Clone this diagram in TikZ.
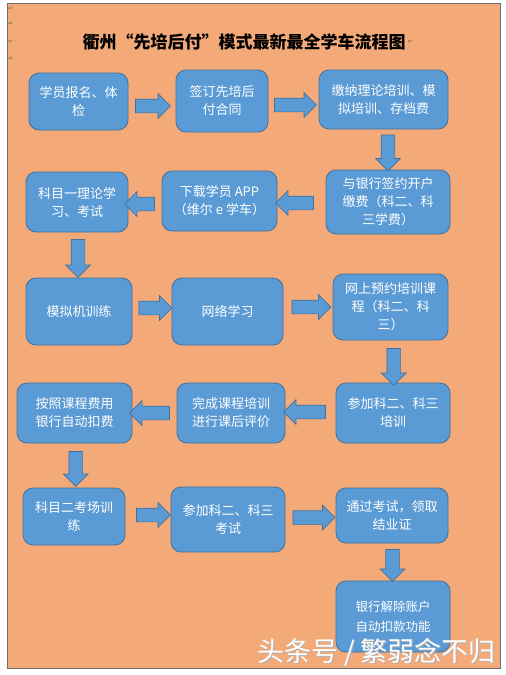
\documentclass[tikz,border=0pt]{standalone}
\usepackage{fontspec}
\newfontfamily\cjk{Noto Sans CJK SC}
\newfontfamily\djv{DejaVu Sans}
\usetikzlibrary{shapes.arrows,calc}
\definecolor{bgorange}{RGB}{243,169,120}
\definecolor{boxblue}{RGB}{91,155,213}
\definecolor{boxline}{RGB}{65,113,156}
\definecolor{frameline}{RGB}{110,110,110}
\begin{document}
\begin{tikzpicture}[x=1pt,y=-1pt,
  box/.style={draw=boxline, line width=0.8pt, fill=boxblue, rounded corners=10pt,
    text=white, align=center, inner sep=2pt,
    font=\cjk\fontsize{13}{18}\selectfont},
  barrow/.style={single arrow, draw=boxline, line width=0.7pt, fill=boxblue,
    inner sep=6.5pt, single arrow head extend=5.5pt, single arrow tip angle=90},
  rarr/.style={barrow, shape border rotate=0},
  larr/.style={barrow, shape border rotate=180},
  darr/.style={barrow, shape border rotate=270},
  retmark/.style={text=gray!80!black, font=\djv\fontsize{6}{6}\selectfont, inner sep=0pt}
]
\useasboundingbox (0,0) rectangle (506,675);
\fill[white] (0,0) rectangle (506,675);
\draw[frameline, fill=bgorange, line width=0.8pt] (7,3) rectangle (500,668);

% paragraph marks
\node[retmark] (r1) at (11,9) {↵};
\node[retmark] (r2) at (11,24) {↵};
\node[retmark] (r3) at (11,42) {↵};
\node[retmark] (r4) at (11,59) {↵};

% title
\node[font=\cjk\bfseries\fontsize{17}{20}\selectfont, inner sep=0pt] (title) at (244,42) {衢州“先培后付”模式最新最全学车流程图};
\node[retmark, anchor=west] (r5) at ([xshift=2pt]title.east) {↵};

% boxes
\node[box, minimum width=99pt, minimum height=57pt] (b1) at (78.5,101.5) {学员报名、体\\检};
\node[box, minimum width=92pt, minimum height=62pt] (b2) at (222,101) {签订先培后\\付合同};
\node[box, minimum width=129pt, minimum height=59pt] (b3) at (383.5,99.5) {缴纳理论培训、模\\拟培训、存档费};
\node[box, minimum width=102pt, minimum height=60pt] (b4) at (77,202) {科目一理论学\\习、考试};
\node[box, minimum width=115pt, minimum height=60pt] (b5) at (219.5,201) {下载学员 APP\\（维尔 e 学车）};
\node[box, minimum width=124pt, minimum height=64pt] (b6) at (388,202) {与银行签约开户\\缴费（科二、科\\三学费）};
\node[box, minimum width=106pt, minimum height=67pt] (b7) at (79,311.5) {模拟机训练};
\node[box, minimum width=111pt, minimum height=67pt] (b8) at (227.5,311.5) {网络学习};
\node[box, minimum width=115pt, minimum height=66pt] (b9) at (390.5,307) {网上预约培训课\\程（科二、科\\三）};
\node[box, minimum width=115pt, minimum height=60pt] (b10) at (74.5,413) {按照课程费用\\银行自动扣费};
\node[box, minimum width=108pt, minimum height=60pt] (b11) at (231,413) {完成课程培训\\进行课后评价};
\node[box, minimum width=114pt, minimum height=60pt] (b12) at (393,413) {参加科二、科三\\培训};
\node[box, minimum width=102pt, minimum height=57pt] (b13) at (74,516.5) {科目二考场训\\练};
\node[box, minimum width=114pt, minimum height=65pt] (b14) at (228,519.5) {参加科二、科三\\考试};
\node[box, minimum width=112pt, minimum height=55pt] (b15) at (392,515.5) {通过考试，领取\\结业证};
\node[box, minimum width=114pt, minimum height=71pt, font=\cjk\fontsize{12.5}{20}\selectfont] (b16) at (393,616.5) {银行解除账户\\自动扣款功能};

% block arrows
\path (b1.east) -- (b2.west) node[midway, rarr, minimum height=35pt, xshift=-2.5pt, yshift=-4.75pt] (a1) {};
\path (b2.east) -- (b3.west) node[midway, rarr, minimum height=42pt, xshift=-1.5pt, yshift=-4.75pt] (a2) {};
\path (b3.south) -- (b6.north) node[midway, darr, minimum height=36pt, xshift=2.25pt] (d1) {};
\path (b6.west) -- (b5.east) node[midway, larr, minimum height=38pt, xshift=-3.5pt, yshift=-1.5pt] (a3) {};
\path (b5.west) -- (b4.east) node[midway, larr, minimum height=30pt, xshift=-2pt, yshift=-2.5pt] (a4) {};
\path (b4.south) -- (b7.north) node[midway, darr, minimum height=38pt] (d2) {};
\path (b7.east) -- (b8.west) node[midway, rarr, minimum height=33pt, yshift=3.5pt] (a5) {};
\path (b8.east) -- (b9.west) node[midway, rarr, minimum height=39pt, yshift=2.25pt] (a6) {};
\path (b9.south) -- (b12.north) node[midway, darr, minimum height=37pt, xshift=2pt, yshift=-2pt] (d3) {};
\path (b12.west) -- (b11.east) node[midway, larr, minimum height=42pt, xshift=-2.5pt, yshift=1pt] (a7) {};
\path (b11.west) -- (b10.east) node[midway, larr, minimum height=40pt, xshift=-1.5pt] (a8) {};
\path (b10.south) -- (b13.north) node[midway, darr, minimum height=35pt, xshift=1.5pt] (d4) {};
\path (b13.east) -- (b14.west) node[midway, rarr, minimum height=34pt, xshift=2pt, yshift=3pt] (a9) {};
\path (b14.east) -- (b15.west) node[midway, rarr, minimum height=42pt] (a10) {};
\path (b15.south) -- (b16.north) node[midway, darr, minimum height=32pt] (d5) {};

% watermark
\node[font=\cjk\fontsize{27}{30}\selectfont, text=gray!60, inner sep=0pt] (wmshadow) at (377.5,653) {头条号 / 繁弱念不归};
\node[font=\cjk\fontsize{27}{30}\selectfont, text=white, inner sep=0pt] (wm) at (376.5,652) {头条号 / 繁弱念不归};
\end{tikzpicture}
\end{document}
